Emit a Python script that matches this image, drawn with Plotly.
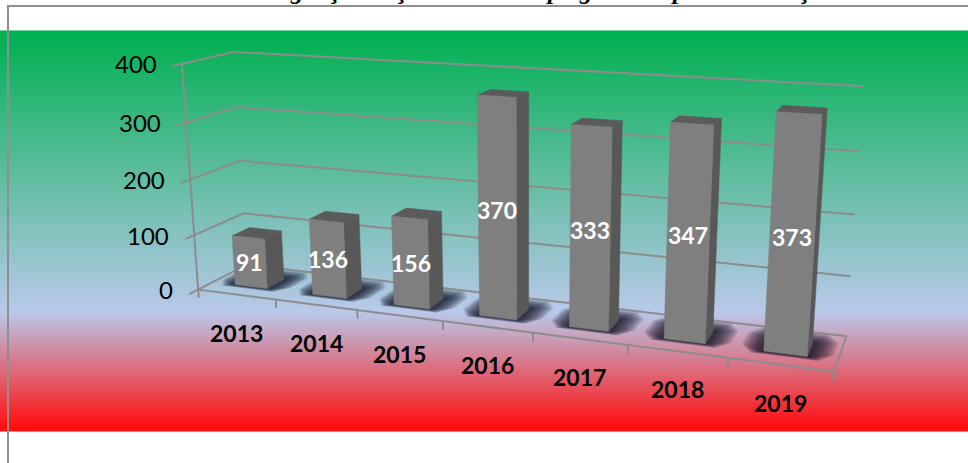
import numpy as np
import plotly.graph_objects as go

# ---- data ----
years = ["2013", "2014", "2015", "2016", "2017", "2018", "2019"]
values = [91, 136, 156, 370, 333, 347, 373]
y_ticks = [0, 100, 200, 300, 400]
title_glyphs = ["g", "ţ", "ţ", "p", "g", "p", "ţ"]
title_glyph_px = [297, 335, 402, 553, 586, 678, 805]

# ---- style ----
GRID = "#8c8c8c"
FRONT, SIDE, TOP = "#7f7f7f", "#585858", "#5b5b5b"
BAR_X = (0.29, 0.71)
BAR_Y = (0.30, 0.66)

# ---- the oblique view of the chart box: (slot, depth, value) -> page pixel ----
view_box = [
    (0, 0, 0), (0, 0, 100), (0, 0, 200), (0, 0, 300), (0, 0, 400),
    (0, 1, 0), (0, 1, 100), (0, 1, 200), (0, 1, 300), (0, 1, 400),
    (7, 1, 0), (7, 1, 100), (7, 1, 200), (7, 1, 300), (7, 1, 400),
    (7, 0, 0), (1, 0, 0), (2, 0, 0), (3, 0, 0), (5, 0, 0), (6, 0, 0),
]
view_px = [
    (198, 289), (195, 236), (190, 180), (185, 122), (182, 64),
    (246, 265), (243, 213), (241, 161), (238, 107), (234, 52),
    (846, 336), (851, 277), (855, 214), (860, 151), (863, 86),
    (834, 372), (276, 299), (358, 310), (443, 321), (628, 345), (728, 358),
]
A, b = [], []
for (X, Y, Z), (u, v) in zip(view_box, view_px):
    A.append([X, Y, Z, 1, 0, 0, 0, 0, -u * X, -u * Y, -u * Z])
    b.append(u)
    A.append([0, 0, 0, 0, X, Y, Z, 1, -v * X, -v * Y, -v * Z])
    b.append(v)
p = np.linalg.lstsq(np.array(A, float), np.array(b, float), rcond=None)[0]
P = np.append(p, 1.0).reshape(3, 4)


def proj(X, Y, Z):
    h = P @ np.array([X, Y, Z, 1.0])
    return float(h[0] / h[2]), float(h[1] / h[2])


def path(points):
    xy = [proj(*q) for q in points]
    return [a for a, _ in xy], [c for _, c in xy]


fig = go.Figure()

# gradient panel
rows = np.linspace(31, 431, 401)
fig.add_trace(go.Heatmap(
    x=[8, 968], y=rows, z=[[r, r] for r in rows], zmin=31, zmax=431,
    showscale=False, hoverinfo="skip", zsmooth="best",
    colorscale=[[0, "#00b050"], [0.7, "#b9c9ea"], [0.985, "#ff1010"], [1, "#ff0d0d"]],
))


def line(xs, ys, width=2, color=GRID):
    fig.add_trace(go.Scatter(x=xs, y=ys, mode="lines", hoverinfo="skip",
                             line=dict(color=color, width=width)))


# panel frame
line([8, 8, 968], [463, 6, 6], 2, "#8f8f8f")

# walls and floor
for t in y_ticks:
    line(*path([(0, -0.17, t), (0, 0, t), (0, 1, t), (7, 1, t)]))
line(*path([(0, 0, 0), (0, 0, 400)]))
line(*path([(0, 0, 0), (7, 0, 0), (7, 1, 0)]))
for i in range(len(years) + 1):
    line(*path([(i, 0, 0), (i, 0, -15)]))

# soft shadows on the floor
for k in range(14):
    e = 1 - k / 14
    for i in range(len(years)):
        x0, x1 = i + BAR_X[0] - 0.24 * e, i + BAR_X[1] + 0.24 * e
        y0, y1 = BAR_Y[0] - 0.08 * e, BAR_Y[1] + 0.32 * e
        cx, cy = 0.12 * e, 0.2 * e
        xs, ys = path([(x0 + cx, y0, 0), (x1 - cx, y0, 0), (x1, y0 + cy, 0),
                       (x1, y1 - cy, 0), (x1 - cx, y1, 0), (x0 + cx, y1, 0),
                       (x0, y1 - cy, 0), (x0, y0 + cy, 0), (x0 + cx, y0, 0)])
        fig.add_trace(go.Scatter(x=xs, y=ys, mode="lines", fill="toself",
                                 fillcolor="rgba(20,20,38,0.11)", hoverinfo="skip",
                                 line=dict(width=0)))

# bars
for i, val in enumerate(values):
    x0, x1 = i + BAR_X[0], i + BAR_X[1]
    y0, y1 = BAR_Y
    faces = [
        ([(x1, y0, 0), (x1, y1, 0), (x1, y1, val), (x1, y0, val), (x1, y0, 0)], SIDE),
        ([(x0, y0, val), (x1, y0, val), (x1, y1, val), (x0, y1, val), (x0, y0, val)], TOP),
        ([(x0, y0, 0), (x1, y0, 0), (x1, y0, val), (x0, y0, val), (x0, y0, 0)], FRONT),
    ]
    for pts, col in faces:
        xs, ys = path(pts)
        fig.add_trace(go.Scatter(x=xs, y=ys, mode="lines", fill="toself", fillcolor=col,
                                 hoverinfo="skip", line=dict(color=col, width=0.5)))

anns = []
for t in y_ticks:
    u, v = proj(0, 0, t)
    anns.append(dict(x=u, y=v, text=str(t), xanchor="right", yanchor="middle", xshift=-23,
                     showarrow=False, font=dict(family="Lato", size=24, color="black")))
for i, yr in enumerate(years):
    u, v = proj(i + 0.5, 0, 0)
    anns.append(dict(x=u, y=v, text=f"<b>{yr}</b>", yshift=-38, showarrow=False,
                     font=dict(family="Lato", size=23, color="black")))
for i, val in enumerate(values):
    u, v = proj(i + 0.5, BAR_Y[0], val / 2)
    anns.append(dict(x=u, y=v, text=f"<b>{val}</b>", showarrow=False,
                     font=dict(family="Lato", size=23, color="white")))
for g, gx in zip(title_glyphs, title_glyph_px):
    anns.append(dict(x=gx, y=6, text=f"<b><i>{g}</i></b>", yanchor="bottom", showarrow=False,
                     font=dict(family="Liberation Serif", size=25, color="black")))

fig.update_layout(
    width=968, height=463, margin=dict(l=0, r=0, t=0, b=0), showlegend=False,
    paper_bgcolor="white", plot_bgcolor="white", annotations=anns,
    xaxis=dict(range=[0, 968], visible=False, fixedrange=True),
    yaxis=dict(range=[463, 0], visible=False, fixedrange=True),
)
fig.write_html("out.html", config={"displayModeBar": False},
               post_script="document.body.style.margin='0';")
